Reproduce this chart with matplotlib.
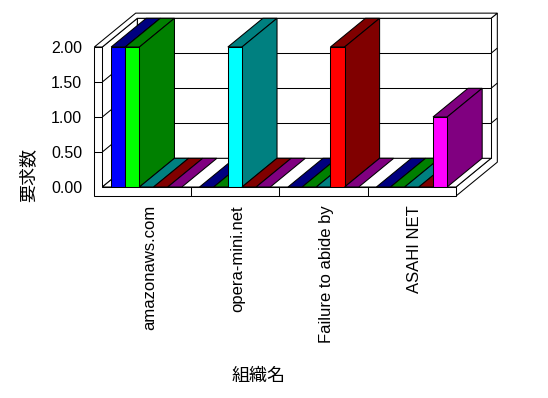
import matplotlib
matplotlib.use("Agg")
import matplotlib.pyplot as plt
from matplotlib.patches import Polygon

# data
categories = ["amazonaws.com", "opera-mini.net", "Failure to abide by", "ASAHI NET"]
s_blue = [2, 0, 0, 0]
s_lime = [2, 0, 0, 0]
s_cyan = [0, 2, 0, 0]
s_red = [0, 0, 2, 0]
s_magenta = [0, 0, 0, 1]
series = [s_blue, s_lime, s_cyan, s_red, s_magenta]
front_colors = ["#0000FF", "#00FF00", "#00FFFF", "#FF0000", "#FF00FF"]
shade_colors = ["#000080", "#008000", "#008080", "#800000", "#800080"]
yticks = [0.0, 0.5, 1.0, 1.5, 2.0]
ytick_labels = ["0.00", "0.50", "1.00", "1.50", "2.00"]

plt.rcParams['font.family'] = ['Liberation Sans', 'Noto Sans CJK JP']

# fake 3d geometry (oblique projection), all in data units
DX, DY = 0.396, 0.41      # full depth offset
TB = 0.18                 # back wall thickness (fraction of depth)
LW = 0.09                 # left wall thickness
FT = 0.129                # floor thickness
YMAX = 2.0
NCAT = len(categories)
G, W = 0.1, 0.16          # gap and bar width inside one category
LINE = 0.75


def P(x, y, d):
    return (x + d * DX, y + d * DY)


fig = plt.figure(figsize=(5.48, 3.98), dpi=100)
ax = fig.add_axes([102.3 / 548, 211 / 398, 353.7 / 548, 140 / 398])
ax.set_xlim(0, NCAT)
ax.set_ylim(0, YMAX)
ax.patch.set_visible(False)
for sp in ax.spines.values():
    sp.set_visible(False)


def face(pts, fc, z):
    ax.add_patch(Polygon(pts, closed=True, facecolor=fc, edgecolor='black',
                         lw=LINE, zorder=z, clip_on=False))


def line(p0, p1, z):
    ax.plot([p0[0], p1[0]], [p0[1], p1[1]], color='black', lw=LINE,
            zorder=z, clip_on=False, solid_capstyle='butt')


# walls and floor
face([P(NCAT, -FT, 0), P(NCAT, 0, 0), P(NCAT, 0, 1), P(NCAT, YMAX, 1),
      P(NCAT, YMAX, 1 + TB), P(NCAT, -FT, 1 + TB)], 'white', 1)
face([P(0, 0, 1), P(NCAT, 0, 1), P(NCAT, YMAX, 1), P(0, YMAX, 1)], 'white', 1)
face([P(0, 0, 0), P(0, 0, 1), P(0, YMAX, 1), P(0, YMAX, 0)], 'white', 1)
face([P(0, 0, 0), P(NCAT, 0, 0), P(NCAT, 0, 1), P(0, 0, 1)], 'white', 1)
face([P(-LW, YMAX, 0), P(0, YMAX, 0), P(0, YMAX, 1), P(NCAT, YMAX, 1),
      P(NCAT, YMAX, 1 + TB), P(-LW, YMAX, 1 + TB)], 'white', 1)

for y in yticks[1:-1]:
    line(P(0, y, 1), P(NCAT, y, 1), 2)
    line(P(0, y, 0), P(0, y, 1), 2)
    line(P(NCAT, y, 1), P(NCAT, y, 1 + TB), 2)

# bars, drawn left to right so fronts hide the sides of earlier bars
for j, vals in enumerate(series):
    xs = [k + G + j * W for k in range(NCAT)]
    bars = ax.bar(xs, vals, width=W, align='edge', color=front_colors[j],
                  edgecolor='black', linewidth=LINE)
    for k, b in enumerate(bars):
        z = 10 + 3 * (k * len(series) + j)
        x, h = b.get_x(), b.get_height()
        b.set_zorder(z + 2)
        b.set_clip_on(False)
        face([P(x, h, 0), P(x + W, h, 0), P(x + W, h, 1), P(x, h, 1)],
             shade_colors[j], z)
        if h > 0:
            face([P(x + W, 0, 0), P(x + W, h, 0), P(x + W, h, 1),
                  P(x + W, 0, 1)], shade_colors[j], z + 1)

# front slab of left wall + floor
face([(-LW, -FT), (NCAT, -FT), (NCAT, 0), (0, 0), (0, YMAX), (-LW, YMAX)],
     'white', 200)
for y in yticks[1:-1]:
    line((-LW, y), (0, y), 201)
for k in range(1, NCAT):
    line((k, -FT), (k, 0), 201)

ax.set_yticks(yticks)
ax.set_yticklabels(ytick_labels, fontsize=11.5)
ax.set_xticks([k + 0.535 for k in range(NCAT)])
ax.set_xticklabels(categories, rotation=90, fontsize=12)
ax.tick_params(axis='y', length=0, pad=14.6)
ax.tick_params(axis='x', length=0, pad=13)

fig.text(28 / 548, 1 - 175 / 398, '要求数', rotation=90, ha='center',
         va='center', fontsize=13, family=['Noto Sans CJK JP'])
fig.text(259 / 548, 1 - 376 / 398, '組織名', ha='center', va='center',
         fontsize=13, family=['Noto Sans CJK JP'])

fig.savefig('out.png', dpi=100)
